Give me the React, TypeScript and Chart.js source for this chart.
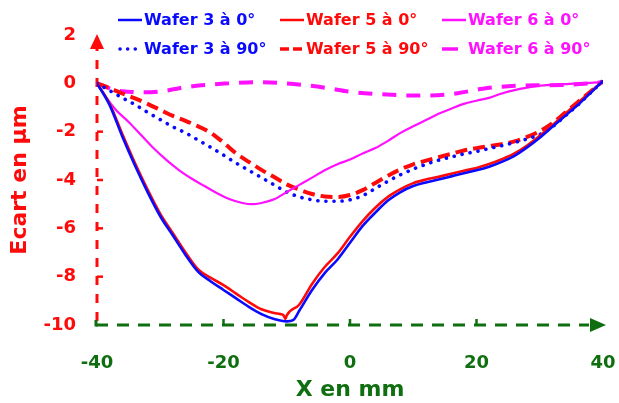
import React, { useEffect, useRef } from "react";
import { Chart, registerables } from "chart.js";

Chart.register(...registerables);

// ---------- data ----------
const xTicks = [-40, -20, 0, 20, 40];
const yTicks = [-10, -8, -6, -4, -2, 0, 2];

const seriesNames = [
  "Wafer 3 à 0°",
  "Wafer 5 à 0°",
  "Wafer 6 à 0°",
  "Wafer 3 à 90°",
  "Wafer 5 à 90°",
  "Wafer 6 à 90°",
];

const wafer3at0: [number, number][] = [
  [-40, 0], [-38, -0.9], [-36, -2.2], [-34, -3.4], [-32, -4.5], [-30, -5.5], [-28, -6.3],
  [-26, -7.1], [-24, -7.8], [-22, -8.2], [-20, -8.55], [-18, -8.9], [-16, -9.25], [-14, -9.55],
  [-12, -9.75], [-10, -9.85], [-9, -9.8], [-8, -9.4], [-6, -8.55], [-4, -7.85], [-2, -7.3],
  [0, -6.6], [2, -5.9], [4, -5.35], [6, -4.85], [8, -4.5], [10, -4.25], [12, -4.1], [14, -3.98],
  [16, -3.85], [18, -3.72], [20, -3.6], [22, -3.45], [24, -3.25], [26, -3.0], [28, -2.65],
  [30, -2.25], [32, -1.8], [34, -1.35], [36, -0.9], [38, -0.4], [40, 0.1],
];

const wafer5at0: [number, number][] = [
  [-40, 0], [-38, -0.85], [-36, -2.1], [-34, -3.3], [-32, -4.4], [-30, -5.4], [-28, -6.2],
  [-26, -7.0], [-24, -7.7], [-22, -8.05], [-20, -8.35], [-18, -8.7], [-16, -9.05], [-14, -9.35],
  [-12, -9.5], [-11, -9.55], [-10.5, -9.6], [-10.2, -9.75], [-10, -9.6], [-8, -9.15], [-6, -8.3],
  [-4, -7.6], [-2, -7.05], [0, -6.35], [2, -5.7], [4, -5.15], [6, -4.7], [8, -4.38], [10, -4.13],
  [12, -3.98], [14, -3.87], [16, -3.74], [18, -3.62], [20, -3.5], [22, -3.34], [24, -3.14],
  [26, -2.9], [28, -2.57], [30, -2.17], [32, -1.73], [34, -1.26], [36, -0.81], [38, -0.36], [40, 0.1],
];

const wafer6at0: [number, number][] = [
  [-40, 0], [-38.5, -0.6], [-37, -1.1], [-35, -1.6], [-33, -2.15], [-31, -2.7], [-29, -3.18],
  [-27, -3.6], [-25, -3.95], [-23, -4.25], [-21, -4.55], [-19, -4.8], [-17, -4.95], [-15.5, -5.0],
  [-14, -4.95], [-12, -4.8], [-10, -4.5], [-8, -4.2], [-6, -3.9], [-4, -3.6], [-2, -3.35],
  [0, -3.15], [2, -2.9], [4, -2.68], [6, -2.38], [8, -2.05], [10, -1.78], [12, -1.52], [14, -1.26],
  [16, -1.05], [18, -0.85], [20, -0.72], [22, -0.6], [24, -0.42], [26, -0.28], [28, -0.18],
  [30, -0.1], [32, -0.06], [34, -0.03], [36, 0], [38, 0.02], [40, 0.05],
];

const wafer3at90: [number, number][] = [
  [-40, 0], [-38, -0.3], [-36, -0.6], [-34, -0.88], [-32, -1.2], [-30, -1.5], [-28, -1.8],
  [-26, -2.05], [-24, -2.35], [-22, -2.65], [-20, -2.97], [-18, -3.3], [-16, -3.6], [-14, -3.9],
  [-12, -4.2], [-10, -4.5], [-8, -4.7], [-6, -4.82], [-4, -4.88], [-2, -4.88], [0, -4.82],
  [2, -4.65], [4, -4.35], [6, -4.05], [8, -3.78], [10, -3.55], [12, -3.35], [14, -3.18],
  [16, -3.05], [18, -2.92], [20, -2.82], [22, -2.7], [24, -2.58], [26, -2.45], [28, -2.3],
  [30, -2.12], [32, -1.8], [34, -1.35], [36, -0.9], [38, -0.4], [40, 0.1],
];

const wafer5at90: [number, number][] = [
  [-40, 0], [-38, -0.2], [-36, -0.42], [-34, -0.62], [-32, -0.85], [-30, -1.1], [-28, -1.35],
  [-26, -1.55], [-24, -1.78], [-22, -2.05], [-20, -2.45], [-18, -2.9], [-16, -3.25], [-14, -3.58],
  [-12, -3.88], [-10, -4.18], [-8, -4.4], [-6, -4.58], [-4, -4.68], [-2, -4.7], [0, -4.62],
  [2, -4.42], [4, -4.12], [6, -3.82], [8, -3.56], [10, -3.35], [12, -3.2], [14, -3.06],
  [16, -2.92], [18, -2.78], [20, -2.68], [22, -2.6], [24, -2.52], [26, -2.4], [28, -2.22],
  [30, -1.98], [32, -1.65], [34, -1.22], [36, -0.78], [38, -0.35], [40, 0.1],
];

const wafer6at90: [number, number][] = [
  [-40, 0], [-37, -0.29], [-34, -0.36], [-31.5, -0.37], [-29, -0.3], [-27, -0.2], [-23.5, -0.08],
  [-19, 0], [-15, 0.05], [-11.5, 0.02], [-7, -0.08], [-3.5, -0.2], [0, -0.35], [5, -0.45],
  [9, -0.5], [12.5, -0.5], [17, -0.41], [21, -0.22], [25, -0.12], [29.5, -0.08], [33.5, -0.07],
  [38, 0], [40, 0.05],
];

// ---------- styles ----------
const BLUE = "#0a0aff";
const RED = "#ff0a0a";
const MAGENTA = "#ff10ff";
const GREEN = "#0f6e0f";
const FONT = "'DejaVu Sans', 'Liberation Sans', Arial, sans-serif";

const toPts = (arr: [number, number][]) => arr.map(([x, y]) => ({ x, y }));

const axesPlugin = {
  id: "customAxes",
  beforeDatasetsDraw(chart: any) {
    const { ctx } = chart;
    const xs = chart.scales.x;
    const ys = chart.scales.y;
    const x0 = xs.getPixelForValue(-40);
    const x1 = xs.getPixelForValue(40);
    const y0 = ys.getPixelForValue(-10);
    const y1 = ys.getPixelForValue(2);
    ctx.save();
    // Y axis (red dashed)
    ctx.strokeStyle = RED;
    ctx.fillStyle = RED;
    ctx.lineWidth = 3;
    ctx.setLineDash([9, 9]);
    ctx.beginPath();
    ctx.moveTo(x0, y0 - 4);
    ctx.lineTo(x0, y1 + 12);
    ctx.stroke();
    ctx.setLineDash([]);
    ctx.beginPath();
    ctx.moveTo(x0, y1 - 1);
    ctx.lineTo(x0 - 7, y1 + 14);
    ctx.lineTo(x0 + 7, y1 + 14);
    ctx.closePath();
    ctx.fill();
    ctx.lineWidth = 2.5;
    for (const v of [-8, -6, -4, -2]) {
      const py = ys.getPixelForValue(v);
      ctx.beginPath();
      ctx.moveTo(x0, py);
      ctx.lineTo(x0 + 6, py);
      ctx.stroke();
    }
    // X axis (green dashed)
    ctx.strokeStyle = GREEN;
    ctx.fillStyle = GREEN;
    ctx.lineWidth = 3;
    ctx.setLineDash([12, 9]);
    ctx.beginPath();
    ctx.moveTo(x0 - 1, y0);
    ctx.lineTo(x1 - 14, y0);
    ctx.stroke();
    ctx.setLineDash([]);
    ctx.beginPath();
    ctx.moveTo(x0 - 1, y0 - 5);
    ctx.lineTo(x0 - 1, y0 + 1.5);
    ctx.stroke();
    ctx.beginPath();
    ctx.moveTo(x1 + 3, y0);
    ctx.lineTo(x1 - 13, y0 - 7);
    ctx.lineTo(x1 - 13, y0 + 7);
    ctx.closePath();
    ctx.fill();
    ctx.lineWidth = 2.5;
    for (const v of [-20, 0, 20]) {
      const px = xs.getPixelForValue(v);
      ctx.beginPath();
      ctx.moveTo(px, y0);
      ctx.lineTo(px, y0 - 6);
      ctx.stroke();
    }
    ctx.restore();
  },
};

const legendLayout = [
  { col: 0, row: 0 },
  { col: 1, row: 0 },
  { col: 2, row: 0 },
  { col: 0, row: 1 },
  { col: 1, row: 1 },
  { col: 2, row: 1 },
];
const legendSample = [
  { dash: [] as number[], cap: "butt", width: 2.5, len: 24 },
  { dash: [] as number[], cap: "butt", width: 2.5, len: 24 },
  { dash: [] as number[], cap: "butt", width: 2.5, len: 24 },
  { dash: [0.1, 7.5], cap: "round", width: 3.5, len: 22 },
  { dash: [9, 4], cap: "butt", width: 3.5, len: 23 },
  { dash: [16, 20], cap: "butt", width: 3.5, len: 16 },
];

const legendPlugin = {
  id: "gridLegend",
  afterDraw(chart: any) {
    const { ctx } = chart;
    const colX = [118, 280, 442];
    const rowY = [20, 49];
    ctx.save();
    ctx.font = `bold 16px ${FONT}`;
    ctx.textBaseline = "middle";
    ctx.textAlign = "left";
    chart.data.datasets.forEach((ds: any, i: number) => {
      const { col, row } = legendLayout[i];
      const s = legendSample[i];
      const x = colX[col];
      const y = rowY[row];
      ctx.strokeStyle = ds.borderColor;
      ctx.lineWidth = s.width;
      ctx.lineCap = s.cap;
      ctx.setLineDash(s.dash);
      ctx.beginPath();
      ctx.moveTo(x + (s.cap === "round" ? 2 : 0), y);
      ctx.lineTo(x + s.len, y);
      ctx.stroke();
      ctx.setLineDash([]);
      ctx.fillStyle = ds.borderColor;
      ctx.fillText(ds.label, x + 26, y + 1);
    });
    ctx.restore();
  },
};

export default function App() {
  const canvasRef = useRef<HTMLCanvasElement | null>(null);

  useEffect(() => {
    const canvas = canvasRef.current;
    if (!canvas) return;
    Chart.defaults.font.family = FONT;
    const common = { pointRadius: 0, fill: false, cubicInterpolationMode: "monotone" as const };
    const chart = new Chart(canvas, {
      type: "line",
      data: {
        datasets: [
          { label: seriesNames[0], data: toPts(wafer3at0), borderColor: BLUE, borderWidth: 2.6, ...common },
          { label: seriesNames[1], data: toPts(wafer5at0), borderColor: RED, borderWidth: 2.6, ...common },
          { label: seriesNames[2], data: toPts(wafer6at0), borderColor: MAGENTA, borderWidth: 2.2, ...common },
          {
            label: seriesNames[3], data: toPts(wafer3at90), borderColor: BLUE, borderWidth: 3.6,
            borderDash: [0.1, 8], borderCapStyle: "round", ...common,
          },
          {
            label: seriesNames[4], data: toPts(wafer5at90), borderColor: RED, borderWidth: 4,
            borderDash: [12, 6], ...common,
          },
          {
            label: seriesNames[5], data: toPts(wafer6at90), borderColor: MAGENTA, borderWidth: 4,
            borderDash: [14, 10], ...common,
          },
        ],
      },
      options: {
        responsive: false,
        animation: false,
        layout: { padding: { top: 35, right: 16, left: 0, bottom: 0 } },
        plugins: { legend: { display: false }, tooltip: { enabled: false } },
        scales: {
          x: {
            type: "linear",
            min: xTicks[0],
            max: xTicks[xTicks.length - 1],
            afterBuildTicks: (s: any) => { s.ticks = xTicks.map((v) => ({ value: v })); },
            ticks: { color: GREEN, font: { size: 18, weight: "bold" }, padding: 28, maxRotation: 0 },
            grid: { display: false, drawTicks: false },
            border: { display: false },
            title: { display: true, text: "X en mm", color: GREEN, font: { size: 22, weight: "bold" }, padding: 0 },
            afterFit: (s: any) => { s.height = 78; s.paddingLeft = 0; s.paddingRight = 0; },
          },
          y: {
            type: "linear",
            min: yTicks[0],
            max: yTicks[yTicks.length - 1],
            afterBuildTicks: (s: any) => { s.ticks = yTicks.map((v) => ({ value: v })); },
            ticks: { color: RED, font: { size: 18, weight: "bold" }, padding: 21 },
            grid: { display: false, drawTicks: false },
            border: { display: false },
            title: { display: true, text: "Ecart en µm", color: RED, font: { size: 22, weight: "bold" }, padding: { top: 7, bottom: 0 } },
            afterFit: (s: any) => { s.width = 97; s.paddingTop = 0; s.paddingBottom = 0; },
          },
        },
      },
      plugins: [axesPlugin, legendPlugin],
    });
    return () => chart.destroy();
  }, []);

  return (
    <div style={{ position: "fixed", left: 0, top: 0, width: 619, height: 403, background: "#fff" }}>
      <canvas ref={canvasRef} width={619} height={403} style={{ display: "block" }} />
    </div>
  );
}
